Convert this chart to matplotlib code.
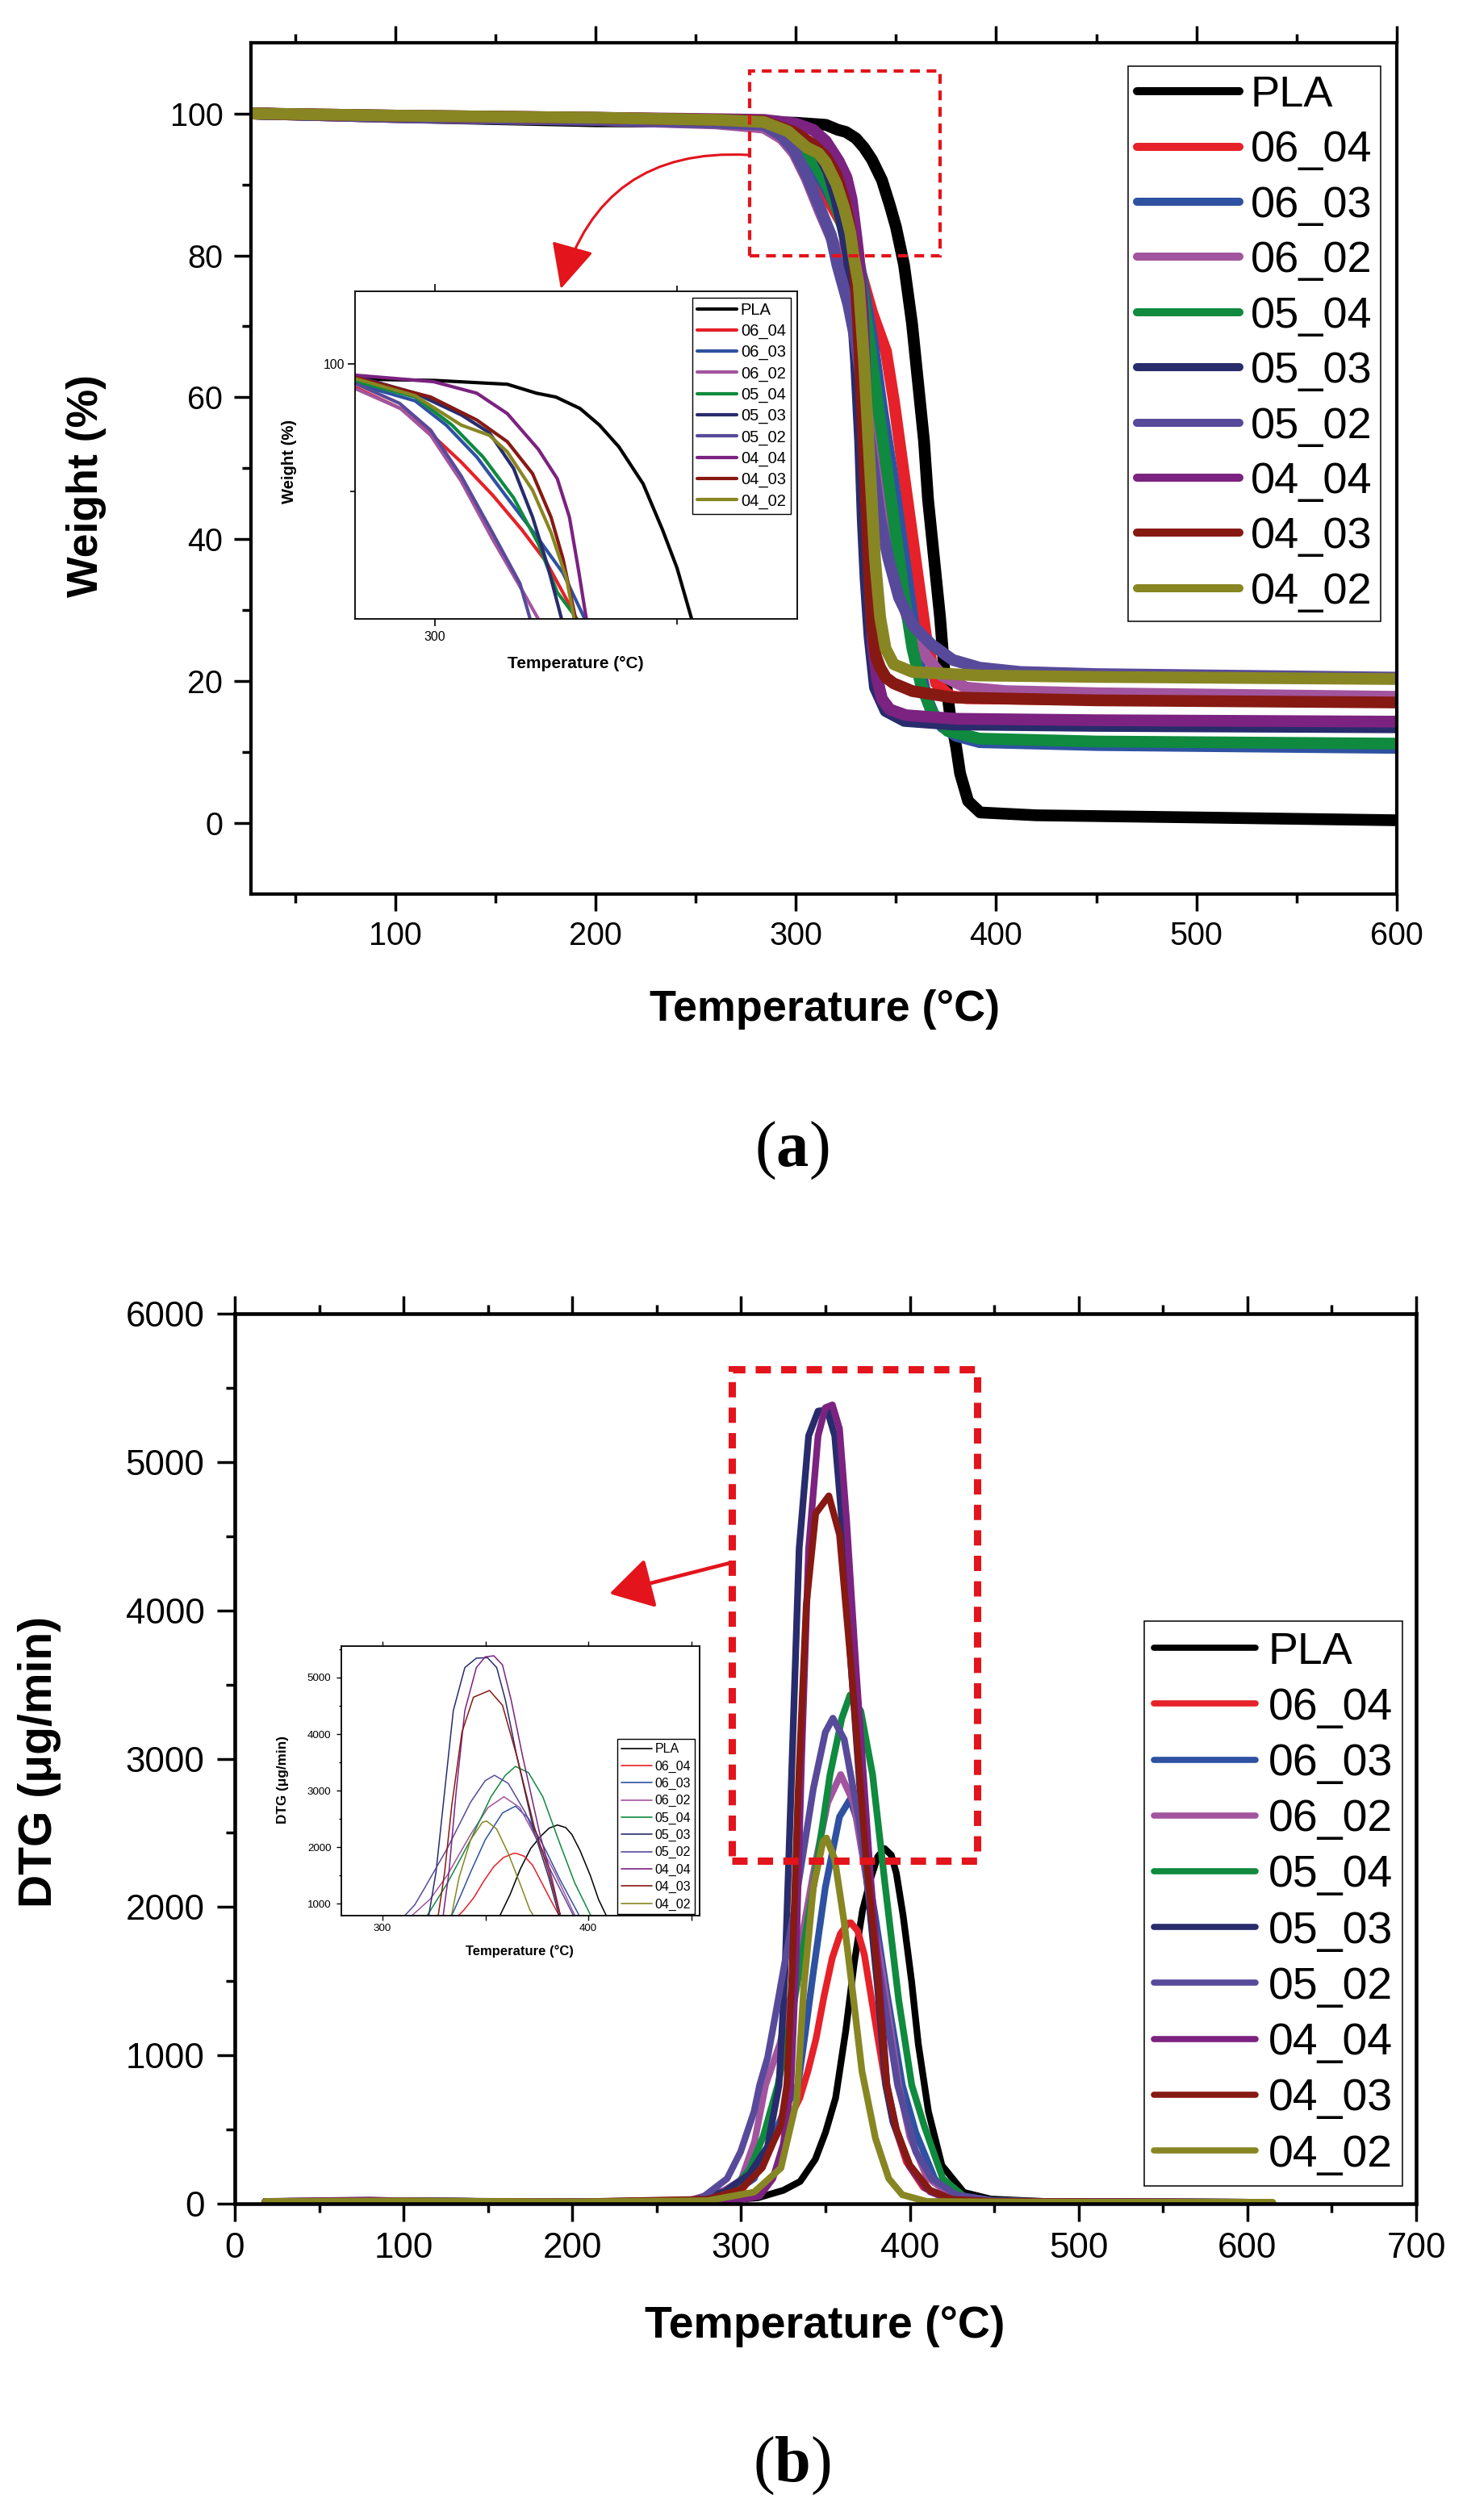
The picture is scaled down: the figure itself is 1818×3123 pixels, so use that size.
import matplotlib
matplotlib.use("Agg")
import matplotlib.pyplot as plt
from matplotlib.patches import Rectangle, FancyArrowPatch
from matplotlib.ticker import MultipleLocator, FixedLocator

W_PX, H_PX = 1818, 3123
plt.rcParams['font.family'] = ['Liberation Sans', 'DejaVu Sans']
plt.rcParams['mathtext.fontset'] = 'custom'
plt.rcParams['mathtext.rm'] = 'Liberation Serif'
plt.rcParams['mathtext.bf'] = 'Liberation Serif:bold'

names = ['PLA', '06_04', '06_03', '06_02', '05_04', '05_03', '05_02', '04_04', '04_03', '04_02']
colors = ['#000000', '#E62129', '#2E52A1', '#A2559E', '#0F8A3E',
          '#282C6C', '#584A9A', '#7C2280', '#871913', '#878623']

# ---- TGA: weight (%) vs temperature (C) ----
pla_tga_t = [28, 100, 200, 284, 300, 315, 321, 325, 330, 334, 338, 343, 347, 350, 354, 358, 361, 364,
             366, 369, 372, 374, 377, 380, 382, 386, 392, 420, 500, 600]
pla_tga_w = [100.0, 99.5, 98.9, 98.8, 98.7, 98.4, 97.7, 97.4, 96.5, 95.2, 93.5, 90.6, 87.0, 84.0, 78.7,
             70.4, 62.1, 53.8, 45.6, 37.3, 29.0, 21.9, 15.2, 10.8, 7.0, 3.1, 1.5, 1.1, 0.8, 0.4]
s0604_tga_t = [28, 100, 200, 260, 284, 293, 299, 305.5, 312, 318, 323, 328, 333, 338, 345, 349, 353,
               357, 361, 365, 370, 377, 385, 450, 600]
s0604_tga_w = [100.0, 99.6, 99.2, 98.8, 98.1, 96.5, 94.6, 92.3, 89.7, 87.0, 84.5, 81.0, 77.0, 72.0,
               66.5, 59.4, 51.1, 42.8, 34.5, 26.3, 19.7, 17.9, 17.6, 17.4, 17.2]
s0603_tga_t = [28, 100, 200, 260, 284, 296, 302.4, 308.7, 315, 321.4, 326.5, 331, 338, 343.5, 348, 352,
               356, 360.9, 364.9, 369, 373, 380, 391.8, 450, 600]
s0603_tga_w = [100.0, 99.6, 99.3, 98.9, 98.4, 97.1, 95.2, 92.7, 89.5, 86.3, 83.6, 80.0, 68.5, 57.5,
               49.5, 41.5, 33.5, 23.5, 18.0, 15.2, 13.6, 12.3, 11.4, 11.0, 10.6]
s0602_tga_t = [28, 100, 200, 260, 284, 293, 299.2, 305.5, 311.9, 318.3, 321.4, 326, 332, 338.1, 342.1,
               346.2, 351.5, 356.9, 364.9, 372.9, 385, 405, 450, 600]
s0602_tga_w = [100.0, 99.5, 99.1, 98.6, 98.0, 96.5, 94.4, 90.8, 86.3, 82.1, 80.0, 74.0, 65.0, 56.6,
               48.3, 40.1, 32.9, 27.9, 23.5, 20.8, 19.1, 18.6, 18.3, 17.8]
s0504_tga_t = [28, 100, 200, 260, 284, 296, 303.6, 310, 316.3, 321.4, 325.3, 329.4, 331.4, 336.8, 342.1,
               346.2, 350.2, 354.2, 358.2, 362.3, 367.6, 375.7, 391.8, 450, 600]
s0504_tga_w = [100.0, 99.6, 99.3, 99.0, 98.6, 97.4, 95.2, 92.7, 89.5, 85.9, 82.1, 80.0, 78.7, 67.6,
               56.6, 48.3, 40.1, 31.8, 24.6, 19.7, 15.8, 13.0, 11.9, 11.5, 11.2]
s0503_tga_t = [28, 100, 200, 260, 284, 296, 305.5, 311.3, 316.3, 320.2, 323.3, 326.2, 327.4, 330.1,
               332.1, 333.4, 334.8, 336.8, 339.5, 344.8, 354.2, 378.3, 450, 600]
s0503_tga_w = [100.0, 99.6, 99.3, 99.1, 99.0, 97.7, 96.0, 94.6, 91.8, 88.0, 84.2, 80.0, 75.9, 64.9,
               53.8, 42.8, 34.5, 26.3, 19.1, 15.8, 14.4, 13.9, 13.7, 13.5]
s0502_tga_t = [28, 100, 200, 260, 284, 292.8, 299.2, 305.5, 311.9, 317.6, 320.7, 326.1, 330.1, 334.1,
               338.1, 342.1, 346.2, 351.5, 358.2, 367.6, 378.3, 391.8, 412, 450, 600]
s0502_tga_w = [100.0, 99.5, 99.1, 98.7, 98.4, 96.9, 94.8, 91.2, 86.8, 82.8, 78.7, 73.2, 67.6, 59.4,
               51.1, 42.8, 37.3, 31.8, 27.9, 25.2, 23.0, 21.9, 21.3, 21.0, 20.5]
s0404_tga_t = [28, 100, 200, 260, 284, 299.8, 308.7, 315, 321.4, 325.3, 327.8, 329.7, 331.3, 333.5,
               335, 336, 337, 338.5, 340.5, 343, 347, 355, 380, 450, 600]
s0404_tga_w = [100.0, 99.7, 99.4, 99.2, 99.1, 98.6, 97.7, 96.1, 93.3, 91.0, 88.0, 83.8, 80.0, 72.0,
               60.0, 45.0, 33.0, 25.0, 20.5, 17.5, 16.0, 15.2, 14.7, 14.5, 14.3]
s0403_tga_t = [28, 100, 200, 260, 284, 299.2, 308.7, 315, 320.2, 324, 326.5, 329.1, 331, 333, 334.5,
               336, 337, 338.1, 340, 342.1, 345, 348.8, 358.2, 378.3, 450, 600]
s0403_tga_w = [100.0, 99.7, 99.4, 99.1, 98.9, 97.4, 95.6, 93.9, 91.4, 88.0, 84.7, 80.0, 71.0, 59.0,
               49.0, 39.0, 33.0, 27.5, 23.5, 21.9, 20.5, 19.7, 18.6, 17.7, 17.3, 17.0]
s0402_tga_t = [28, 100, 200, 260, 284, 296, 305.5, 311.3, 315, 320.2, 324, 327.2, 328.8, 331.4, 334.1,
               336.8, 339.5, 342.1, 344.8, 348.8, 358.2, 391.8, 450, 600]
s0402_tga_w = [100.0, 99.7, 99.4, 99.1, 98.8, 97.5, 95.2, 94.4, 93.1, 90.1, 86.8, 83.2, 80.0, 75.9,
               64.9, 51.1, 37.3, 29.0, 24.6, 22.4, 21.3, 20.8, 20.6, 20.3]

# ---- DTG: ug/min vs temperature (C) ----
pla_dtg_t = [18, 100, 200, 280, 310, 325, 335, 344, 350, 356, 362, 367, 372, 377, 381, 385, 389, 392,
             396, 401, 405, 411, 419, 432, 448, 480, 550, 600]
pla_dtg_d = [15, 18, 12, 15, 40, 90, 150, 300, 480, 713, 1166, 1620, 1980, 2200, 2340, 2394, 2350,
             2227, 1942, 1500, 1076, 621, 258, 76, 31, 15, 12, 10]
s0604_dtg_t = [18, 100, 200, 280, 299.7, 307.7, 315.7, 323.6, 330, 334.8, 339.6, 344.4, 349.2, 354,
               358.8, 363.6, 365, 369, 373, 377, 381, 385.7, 390, 398, 408, 420, 440, 500, 600]
s0604_dtg_d = [15, 18, 12, 20, 78, 205, 350, 514, 604, 713, 894, 1112, 1402, 1656, 1820, 1892, 1894,
               1840, 1680, 1400, 1120, 800, 560, 280, 110, 40, 15, 12, 10]
s0603_dtg_t = [18, 100, 200, 280, 295, 307.7, 318.8, 326, 333.7, 338, 342.8, 349.9, 358.3, 364.6,
               370.9, 379.4, 386.4, 395.5, 403.5, 414.7, 424, 440, 500, 600]
s0603_dtg_d = [15, 18, 12, 20, 70, 169, 441, 640, 800, 1150, 1561, 2132, 2608, 2727, 2512, 1942,
               1419, 800, 480, 169, 50, 18, 12, 10]
s0602_dtg_t = [18, 100, 200, 270, 290, 300, 308, 314.5, 323.2, 331.6, 342.8, 351.3, 359, 366.7, 375.1,
               383.6, 393.4, 400, 410, 425, 450, 500, 600]
s0602_dtg_d = [15, 18, 12, 25, 90, 160, 420, 800, 1086, 1514, 2227, 2703, 2893, 2703, 2132, 1561,
               800, 450, 180, 50, 18, 12, 10]
s0504_dtg_t = [18, 100, 200, 280, 295, 305, 313, 321.8, 331.6, 342.8, 352.7, 359.7, 364.6, 370.9,
               377.9, 385, 393.4, 401.1, 408.3, 419.5, 432, 450, 500, 600]
s0504_dtg_d = [15, 18, 12, 25, 100, 230, 450, 800, 1371, 2132, 2893, 3273, 3430, 3321, 2893, 2180,
               1371, 800, 532, 169, 50, 18, 12, 10]
s0503_dtg_t = [18, 100, 200, 270, 290, 305, 315.7, 322.5, 326, 330.2, 334.4, 340, 345.6, 351, 355.5,
               359.7, 365.3, 373.7, 380.8, 385.7, 390, 400, 410, 425, 450, 600]
s0503_dtg_d = [15, 18, 12, 20, 80, 200, 386, 800, 1561, 2988, 4415, 5176, 5343, 5352, 5176, 4605,
               3606, 2275, 1466, 800, 550, 250, 100, 30, 15, 10]
s0502_dtg_t = [18, 100, 200, 260, 275.7, 291.7, 299.7, 307.7, 311, 315.7, 320.4, 331.6, 342.8, 349.9,
               354.4, 361.1, 369.5, 380.8, 392.7, 403.5, 413, 427.5, 450, 500, 600]
s0502_dtg_d = [15, 20, 12, 18, 30, 169, 350, 622, 800, 985, 1276, 1989, 2798, 3178, 3273, 3130, 2608,
               1656, 800, 350, 169, 60, 20, 12, 10]
s0404_dtg_t = [18, 80, 100, 200, 280, 300, 310.9, 318.8, 325, 329.5, 332.3, 335.8, 340, 345.6, 349.9,
               354.1, 358.3, 362.5, 368.1, 376.5, 382.2, 386.4, 392, 400, 412, 425, 450, 600]
s0404_dtg_d = [15, 25, 18, 12, 15, 30, 50, 169, 400, 800, 1561, 2988, 4415, 5176, 5366, 5385, 5224,
               4605, 3606, 2227, 1466, 800, 500, 250, 80, 25, 15, 10]
s0403_dtg_t = [18, 100, 200, 280, 299.7, 312.5, 323.6, 327.1, 330.2, 333.7, 338.6, 344.2, 352, 358.3,
               365.3, 373.7, 380.8, 386.4, 392, 400, 412, 425, 450, 600]
s0403_dtg_d = [15, 18, 12, 30, 96, 241, 532, 800, 1561, 2750, 4034, 4653, 4772, 4510, 3606, 2370,
               1561, 800, 500, 260, 90, 30, 15, 10]
s0402_dtg_t = [18, 100, 200, 280, 307.7, 323.6, 333, 337.2, 342.8, 348.5, 350.6, 355.5, 361.1, 366.7,
               371.6, 379.6, 387.5, 395.5, 410, 450, 500, 615]
s0402_dtg_d = [15, 18, 12, 20, 78, 241, 700, 1466, 2132, 2441, 2465, 2322, 1894, 1371, 894, 441, 169,
               60, 15, 12, 10, 10]

tga = [(pla_tga_t, pla_tga_w), (s0604_tga_t, s0604_tga_w), (s0603_tga_t, s0603_tga_w),
       (s0602_tga_t, s0602_tga_w), (s0504_tga_t, s0504_tga_w), (s0503_tga_t, s0503_tga_w),
       (s0502_tga_t, s0502_tga_w), (s0404_tga_t, s0404_tga_w), (s0403_tga_t, s0403_tga_w),
       (s0402_tga_t, s0402_tga_w)]
dtg = [(pla_dtg_t, pla_dtg_d), (s0604_dtg_t, s0604_dtg_d), (s0603_dtg_t, s0603_dtg_d),
       (s0602_dtg_t, s0602_dtg_d), (s0504_dtg_t, s0504_dtg_d), (s0503_dtg_t, s0503_dtg_d),
       (s0502_dtg_t, s0502_dtg_d), (s0404_dtg_t, s0404_dtg_d), (s0403_dtg_t, s0403_dtg_d),
       (s0402_dtg_t, s0402_dtg_d)]


def rect(l, t, r, b):
    # pixel box (top-left origin) -> figure fraction rect
    return [l / W_PX, 1 - b / H_PX, (r - l) / W_PX, (b - t) / H_PX]


def fxy(x, y):
    return x / W_PX, 1 - y / H_PX


def style(ax, spine_w, maj, mnr, tw, lsize, padx, pady):
    for s in ax.spines.values():
        s.set_linewidth(spine_w)
    ax.tick_params(which='both', direction='out', top=True, right=False, labeltop=False,
                   width=tw, labelsize=lsize)
    ax.tick_params(which='major', length=maj)
    ax.tick_params(which='minor', length=mnr)
    ax.tick_params(axis='x', pad=padx)
    ax.tick_params(axis='y', pad=pady)


def draw(ax, data, lw):
    for (t, v), c, n in zip(data, colors, names):
        ax.plot(t, v, color=c, lw=lw, label=n, solid_capstyle='round', solid_joinstyle='round')


def legend(ax, size, anchor, hl, ls, bp, htp, hlw, frame_w):
    leg = ax.legend(loc='upper right', bbox_to_anchor=anchor, borderaxespad=0, fontsize=size,
                    handlelength=hl, labelspacing=ls, borderpad=bp, handletextpad=htp,
                    fancybox=False, framealpha=1, edgecolor='black')
    leg.get_frame().set_linewidth(frame_w)
    for ln in leg.get_lines():
        ln.set_linewidth(hlw)
    return leg


fig = plt.figure(figsize=(W_PX / 100, H_PX / 100), dpi=100)
RED = '#E3141C'

# ---------------- panel (a) ----------------
ax_a = fig.add_axes(rect(311, 52.7, 1731, 1108))
draw(ax_a, tga, 10.5)
ax_a.set_xlim(28, 600)
ax_a.set_ylim(-10, 110)
ax_a.xaxis.set_major_locator(FixedLocator([100, 200, 300, 400, 500, 600]))
ax_a.xaxis.set_minor_locator(MultipleLocator(50))
ax_a.yaxis.set_major_locator(FixedLocator([0, 20, 40, 60, 80, 100]))
ax_a.yaxis.set_minor_locator(FixedLocator([10, 30, 50, 70, 90]))
style(ax_a, 3.0, 15, 8, 2.5, 28.5, 9, 10)
legend(ax_a, 39, (0.9858, 0.972), 2.35, 0.34, 0.2, 0.25, 7.2, 1.1)
ax_a.add_patch(Rectangle((276.8, 80.0), 95.4, 26.0, fill=False, ec=RED, lw=3,
                         ls=(0, (2.9, 2.0)), zorder=20))

in_a = fig.add_axes(rect(440, 360.7, 987.5, 767.3))
draw(in_a, tga, 3.0)
in_a.set_xlim(283.6, 374.7)
in_a.set_ylim(80, 105.7)
in_a.xaxis.set_major_locator(FixedLocator([300]))
in_a.xaxis.set_minor_locator(FixedLocator([350]))
in_a.yaxis.set_major_locator(FixedLocator([100]))
in_a.yaxis.set_minor_locator(FixedLocator([90]))
style(in_a, 1.3, 6.5, 4, 1.2, 11.3, 4, 3)
in_a.tick_params(axis='x', which='minor', length=5)
legend(in_a, 14.5, (0.986, 0.980), 2.4, 0.35, 0.3, 0.25, 3.0, 1.0)

arrow_a = FancyArrowPatch(fxy(927, 192), fxy(695, 358), transform=fig.transFigure,
                          connectionstyle='arc3,rad=0.4',
                          arrowstyle='-|>,head_length=1.0,head_width=0.48',
                          mutation_scale=35, color=RED, lw=2.2, shrinkA=0, shrinkB=0)
fig.patches.append(arrow_a)

fig.text(*fxy(1022, 1265), 'Temperature (°C)', fontsize=38.8, fontweight='bold',
         ha='center', va='baseline')
fig.text(*fxy(107, 602), 'Weight (%)', fontsize=38.6, fontweight='bold', rotation=90,
         ha='center', va='center')
fig.text(*fxy(713.8, 828), 'Temperature (°C)', fontsize=15, fontweight='bold',
         ha='center', va='baseline')
fig.text(*fxy(359, 572), 'Weight (%)', fontsize=14.6, fontweight='bold', rotation=90,
         ha='center', va='center')
fig.text(*fxy(981, 1445), r'($\mathbf{a}$)', fontsize=58, family='Liberation Serif',
         ha='center', va='baseline')

# ---------------- panel (b) ----------------
ax_b = fig.add_axes(rect(291, 1628, 1755, 2731))
draw(ax_b, dtg, 6.0)
ax_b.set_xlim(0, 700)
ax_b.set_ylim(0, 6000)
ax_b.xaxis.set_major_locator(MultipleLocator(100))
ax_b.xaxis.set_minor_locator(MultipleLocator(50))
ax_b.yaxis.set_major_locator(MultipleLocator(1000))
ax_b.yaxis.set_minor_locator(MultipleLocator(500))
style(ax_b, 3.3, 16, 8, 2.5, 31.6, 9, 11)
legend(ax_b, 40, (0.9887, 0.6543), 2.27, 0.31, 0.22, 0.28, 5.5, 1.1)
ax_b.add_patch(Rectangle((294.6, 2310), 145.4, 3315, fill=False, ec=RED, lw=6.5,
                         ls=(0, (2.1, 1.4)), zorder=20))

in_b = fig.add_axes(rect(423, 2040, 866.8, 2373.5))
draw(in_b, dtg, 1.1)
in_b.set_xlim(280, 454)
in_b.set_ylim(800, 5556)
in_b.xaxis.set_major_locator(FixedLocator([300, 400]))
in_b.xaxis.set_minor_locator(FixedLocator([350, 450]))
in_b.yaxis.set_major_locator(MultipleLocator(1000))
in_b.yaxis.set_minor_locator(MultipleLocator(500))
style(in_b, 1.3, 4.5, 2.5, 1.0, 9.6, 3, 4.5)
in_b.tick_params(axis='x', which='minor', length=4.5)
legend(in_b, 11.5, (0.9878, 0.654), 2.4, 0.39, 0.3, 0.25, 1.2, 1.0)

arrow_b = FancyArrowPatch(fxy(906, 1936.6), fxy(755.3, 1975), transform=fig.transFigure,
                          arrowstyle='-|>,head_length=1.0,head_width=0.59',
                          mutation_scale=33, color=RED, lw=3.3, shrinkA=0, shrinkB=0)
fig.patches.append(arrow_b)

fig.text(*fxy(1022, 2896.7), 'Temperature (°C)', fontsize=40, fontweight='bold',
         ha='center', va='baseline')
fig.text(*fxy(49, 2183), 'DTG (μg/min)', fontsize=41, fontweight='bold', rotation=90,
         ha='center', va='center')
fig.text(*fxy(643.8, 2423), 'Temperature (°C)', fontsize=12, fontweight='bold',
         ha='center', va='baseline')
fig.text(*fxy(350, 2206), 'DTG (μg/min)', fontsize=12.3, fontweight='bold', rotation=90,
         ha='center', va='center')
fig.text(*fxy(981, 3075), r'($\mathbf{b}$)', fontsize=58, family='Liberation Serif',
         ha='center', va='baseline')

fig.savefig('out.png', dpi=100)
